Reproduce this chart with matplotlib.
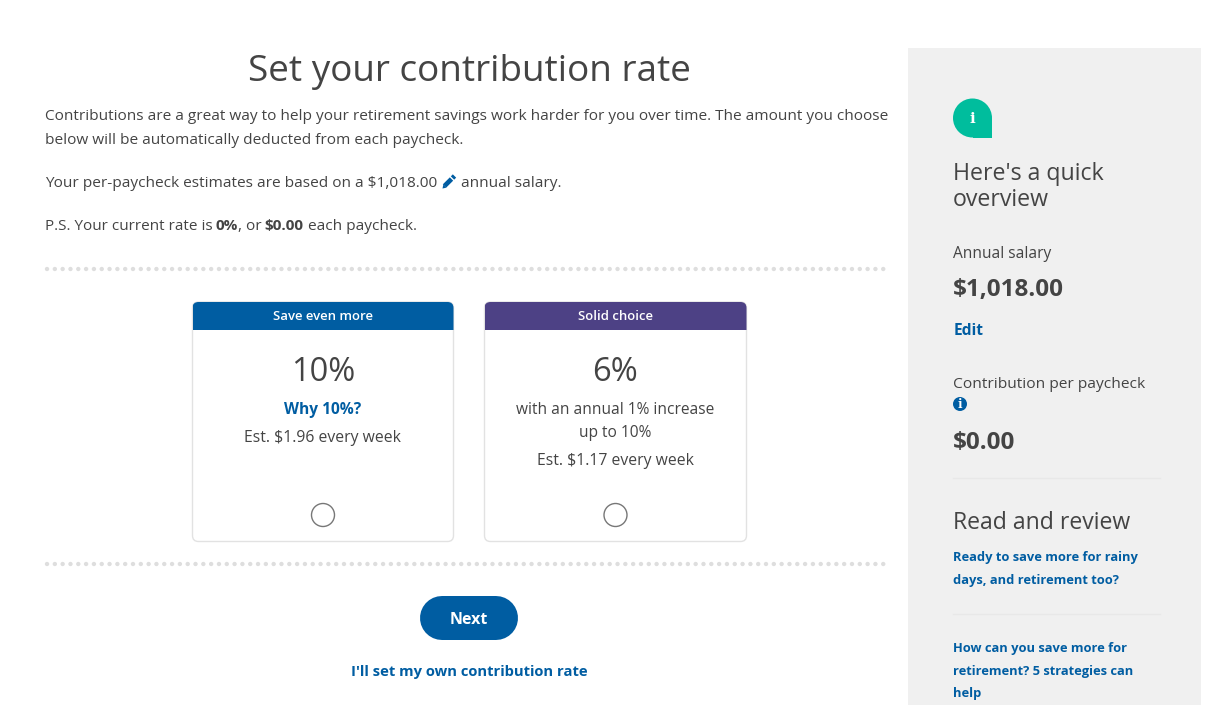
import matplotlib
matplotlib.use("Agg")
import matplotlib.pyplot as plt
from matplotlib.patches import Rectangle, FancyBboxPatch, Circle, Polygon

W, H = 1217, 705
GREY = "#444444"
BLUE = "#005DA2"
PURPLE = "#4D4185"
PANEL = "#F0F0F0"
TEAL = "#00BD9D"
RULE = "#E8E8E8"

plt.rcParams['font.family'] = ['Open Sans', 'DejaVu Sans']
fig = plt.figure(figsize=(W / 100, H / 100), dpi=100, facecolor="white")
ax = fig.add_axes([0, 0, 1, 1])
ax.set_xlim(0, W)
ax.set_ylim(H, 0)
ax.axis("off")

paragraphs = [
    ("Contributions are a great way to help your retirement savings work harder for you over time. The amount you choose", 45, 115),
    ("below will be automatically deducted from each paycheck.", 45, 139),
]
cards = [
    (192.5, 453.5, BLUE, "Save even more", "10%"),
    (484.5, 746.5, PURPLE, "Solid choice", "6%"),
]
links = ["Ready to save more for rainy", "days, and retirement too?",
         "How can you save more for", "retirement? 5 strategies can", "help"]
link_y = [556, 579, 647, 670, 692]


def t(x, y, s, size=11.07, color=GREY, ha="left", weight="normal", **kw):
    ax.text(x, y + 0.12 * size + 0.6, s, fontsize=size, color=color, ha=ha, va="center", fontweight=weight, **kw)


ax.add_patch(Rectangle((908, 48), 293, 657, fc=PANEL, ec="none"))

t(469, 68, "Set your contribution rate", size=26.6, ha="center")
for s, x, y in paragraphs:
    t(x, y, s)

t(45, 182, "Your per-paycheck estimates are based on a $1,018.00")
# pencil icon
ax.plot([444.5, 451.5], [186, 179], color=BLUE, lw=3.4, solid_capstyle="butt")
ax.plot([452.5, 454.5], [178, 176], color=BLUE, lw=3.4, solid_capstyle="butt")
ax.add_patch(Polygon([[442.5, 188.5], [443.3, 184.6], [446.3, 187.7]], fc=BLUE, ec="none"))
t(461, 182, "annual salary.")

t(45, 225, "P.S. Your current rate is", size=10.95)
t(215, 224.4, "0%", size=11.0, weight="bold")
t(238, 225, ", or")
t(264, 224.4, "$0.00", size=11.0, weight="bold")
t(308, 225, "each paycheck.")

for y in (269, 564):
    ax.plot([47, 890], [y, y], color="#DEDEDE", lw=3.2, ls=(0, (0.01, 1.7484)), dash_capstyle="round")

for x0, x1, col, head, pct in cards:
    card = FancyBboxPatch((x0, 302), x1 - x0, 239.5, boxstyle="round,pad=0,rounding_size=6",
                          fc="white", ec="#E2E2E2", lw=1, zorder=1)
    ax.add_patch(card)
    band = Rectangle((x0, 302), x1 - x0, 28, fc=col, ec="none", zorder=2)
    ax.add_patch(band)
    band.set_clip_path(card)
    cx = (x0 + x1) / 2
    t(cx, 315, head, size=9.45, color="white", ha="center", weight="semibold", zorder=3)
    t(cx, 369, pct, size=23.5, ha="center")
    ax.add_patch(Circle((cx, 515), 11.5, fc="white", ec="#777777", lw=1))

t(323, 408, "Why 10%?", size=11.2, color=BLUE, ha="center", weight="bold")
t(323, 436, "Est. $1.96 every week", size=11.3, ha="center")
t(615.5, 408, "with an annual 1% increase", size=11.2, ha="center")
t(615.5, 431, "up to 10%", size=11.2, ha="center")
t(615.5, 459, "Est. $1.17 every week", size=11.3, ha="center")

ax.plot([442, 496], [618, 618], color=BLUE, lw=44 * 0.72, solid_capstyle="round")
t(469, 618, "Next", size=11.5, color="white", ha="center", weight="bold")
t(469, 670, "I'll set my own contribution rate", size=10.6, color=BLUE, ha="center", weight="bold")

# info badge
ax.add_patch(Circle((972.5, 118), 19.5, fc=TEAL, ec="none"))
ax.add_patch(Rectangle((972.5, 118), 19.5, 19.5, fc=TEAL, ec="none"))
t(972.5, 117, "i", size=11, color="white", ha="center", weight="bold", family="DejaVu Serif")

t(953, 171, "Here's a quick", size=16.7)
t(953, 197, "overview", size=16.7)
t(953, 252, "Annual salary", size=11.2)
t(953, 287, "$1,018.00", size=17.5, weight="bold")
t(954, 329, "Edit", size=11.2, color=BLUE, weight="bold")
t(953, 383, "Contribution per paycheck", size=11.15)
ax.add_patch(Circle((960, 404), 7, fc=BLUE, ec="none"))
t(960, 403, "i", size=8.5, color="white", ha="center", weight="bold", family="DejaVu Serif")
t(953, 440, "$0.00", size=17.5, weight="bold")
ax.plot([953, 1160], [477.5, 477.5], color=RULE, lw=1)
t(953, 520, "Read and review", size=16.6)
for s, y in zip(links, link_y):
    t(953, y, s, size=9.25, color=BLUE, weight="bold")
ax.plot([953, 1160], [613.5, 613.5], color=RULE, lw=1)

fig.savefig("out.png", dpi=100, facecolor="white")
